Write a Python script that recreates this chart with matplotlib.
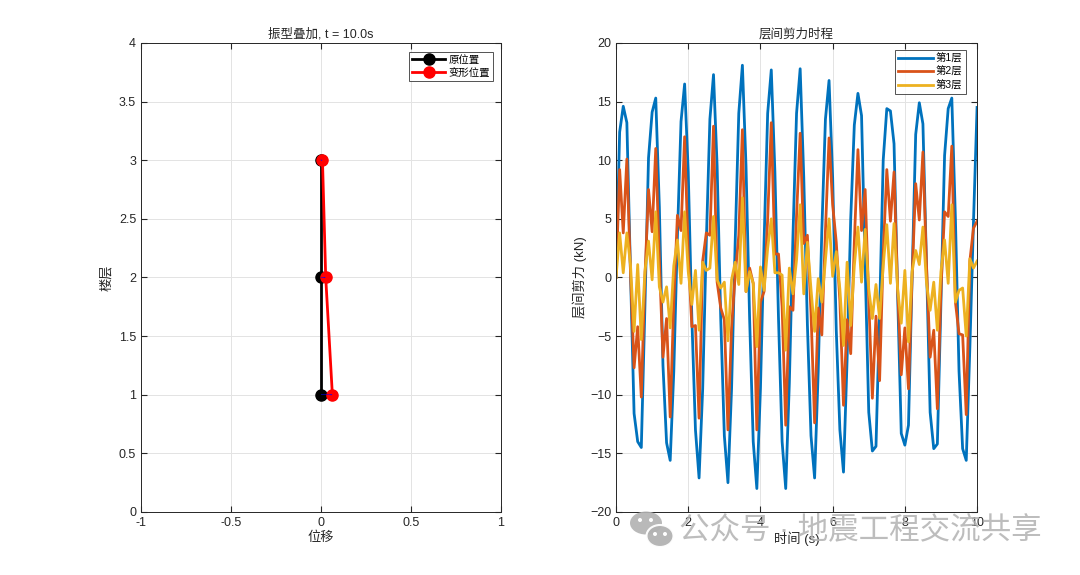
import matplotlib.pyplot as plt
import numpy as np
from matplotlib.patches import Ellipse
from matplotlib.transforms import IdentityTransform

plt.rcParams['font.family'] = ['Liberation Sans', 'Noto Sans CJK SC']

# left panel: floor positions
floors = [1, 2, 3]
orig_x = [0.0, 0.0, 0.0]
deform_x = [0.063, 0.026, 0.008]

# right panel: storey shear time history (kN), dt = 0.1 s
time = np.arange(101) * 0.1
shear1 = [0.0, 12.4, 14.6, 13.2, 0.5, -11.6, -14.0, -14.5, -2.5, 10.2,
          14.1, 15.3, 6.0, -7.5, -14.1, -15.6, -8.0, 3.5, 13.3, 16.5,
          9.0, -3.5, -13.0, -17.1, -9.5, 3.0, 13.5, 17.3, 9.5, -3.5,
          -13.5, -17.5, -9.5, 3.0, 14.0, 18.1, 9.5, -3.5, -14.0, -18.0,
          -9.5, 3.0, 14.0, 17.7, 9.0, -3.5, -14.0, -18.0, -9.0, 3.5,
          14.0, 17.8, 8.5, -4.0, -13.5, -17.1, -8.0, 4.0, 13.5, 16.8,
          8.5, -4.5, -13.0, -16.6, -7.0, 5.0, 13.0, 15.7, 13.8, 1.0,
          -11.5, -14.8, -14.4, -3.0, 10.0, 14.4, 14.2, 11.4, -1.5, -13.3,
          -14.3, -12.6, 0.0, 12.2, 14.9, 13.1, 1.0, -11.5, -14.6, -14.2,
          -2.0, 10.4, 14.4, 15.3, 5.0, -8.0, -14.6, -15.6, -6.0, 4.7,
          14.5]
shear2 = [0.0, 9.2, 3.8, 10.1, 0.5, -7.7, -4.2, -10.2, 0.0, 7.5,
          3.9, 11.0, 1.5, -6.8, -3.5, -11.9, -2.0, 5.3, 4.0, 12.0,
          2.0, -4.2, -4.1, -12.0, 1.4, 3.8, 3.6, 12.9, -0.4, -2.6,
          -3.6, -13.0, -4.3, 0.2, 3.6, 12.6, -1.2, 0.8, -0.5, -13.0,
          -2.1, -1.2, 5.0, 13.2, 2.0, 2.0, -2.5, -12.6, -2.5, -2.8,
          5.3, 12.3, 2.9, 3.6, -3.0, -12.4, -2.6, -4.9, 4.0, 11.9,
          6.2, 3.0, -2.0, -10.9, -3.6, -6.5, 3.0, 10.9, 4.0, 7.5,
          -2.0, -10.3, -3.3, -8.8, 2.0, 9.2, 4.8, 9.0, -1.0, -8.3,
          -4.3, -9.5, 0.0, 8.0, 4.9, 10.7, 1.0, -6.8, -4.5, -11.2,
          -1.0, 5.6, 5.2, 11.2, -2.1, -4.8, -4.9, -11.7, 1.4, 4.2,
          4.8]
shear3 = [0.0, 3.8, 0.4, 3.8, 1.1, -4.6, 1.1, -5.3, 0.5, 3.1,
          -0.2, 5.6, -0.8, -2.1, -0.8, -4.3, 1.0, 3.2, -0.5, 5.6,
          0.5, -2.3, 0.6, -4.5, 1.3, 0.6, 0.8, 5.2, -0.2, -0.9,
          -0.4, -5.4, -0.2, 1.3, -0.6, 6.8, -1.2, 0.5, -0.5, -5.9,
          0.9, -1.1, 2.5, 5.0, 0.4, 0.4, 0.2, -6.2, 0.8, -1.4,
          1.5, 6.2, -1.4, 3.0, -1.0, -4.6, -0.1, -2.1, 1.5, 5.0,
          0.1, 2.2, -1.0, -5.8, 1.3, -4.1, 1.0, 4.3, -0.4, 4.1,
          -1.0, -3.5, -0.6, -3.5, 1.0, 4.5, -0.5, 4.6, -1.0, -3.9,
          0.6, -5.5, 0.5, 2.3, 1.1, 4.3, -0.5, -2.8, -0.4, -4.5,
          0.5, 3.2, -0.5, 6.2, -2.1, -1.1, -0.9, -5.0, 1.6, 0.8,
          1.4]
series_names = ['第1层', '第2层', '第3层']
colors = ['#0072BD', '#D95319', '#EDB120']


def style_axes(ax):
    ax.grid(True, color='#e3e3e3', linewidth=0.7)
    ax.set_axisbelow(True)
    ax.tick_params(direction='in', top=True, right=True, labelsize=9,
                   colors='#262626', length=4)
    for s in ax.spines.values():
        s.set_color('#262626')
        s.set_linewidth(0.7)


fig = plt.figure(figsize=(10.8, 5.75), dpi=100)
ax1 = fig.add_axes([0.1306, 0.1096, 0.3333, 0.8157])
ax2 = fig.add_axes([0.5704, 0.1096, 0.3343, 0.8157])

# left: mode superposition
ax1.plot(orig_x, floors, '-o', color='k', lw=2, ms=8, label='原位置')
ax1.plot(deform_x, floors, '-o', color='r', lw=2, ms=8, label='变形位置')
ax1.quiver(orig_x, floors, np.array(deform_x) - np.array(orig_x), np.zeros(3),
           angles='xy', scale_units='xy', scale=1, color='b', width=0.0015,
           headwidth=2, headlength=2, zorder=5)
ax1.set_xlim(-1, 1)
ax1.set_ylim(0, 4)
ax1.set_xticks([-1, -0.5, 0, 0.5, 1])
ax1.set_xticklabels(['-1', '-0.5', '0', '0.5', '1'])
ax1.set_yticks(np.arange(0, 4.01, 0.5))
ax1.set_yticklabels(['0', '0.5', '1', '1.5', '2', '2.5', '3', '3.5', '4'])
ax1.set_title('振型叠加, t = 10.0s', fontsize=9, color='#262626', pad=4)
ax1.set_xlabel('位移', fontsize=9.5, color='#262626', labelpad=2)
ax1.set_ylabel('楼层', fontsize=9.5, color='#262626', labelpad=4)
style_axes(ax1)
leg1 = ax1.legend(loc='upper right', bbox_to_anchor=(0.978, 0.981),
                  fontsize=7.5, fancybox=False, edgecolor='#262626',
                  borderpad=0.3, handlelength=3.2, handletextpad=0.3,
                  labelspacing=0.25, borderaxespad=0)
leg1.get_frame().set_linewidth(0.7)

# right: storey shear history
for vals, name, c in zip([shear1, shear2, shear3], series_names, colors):
    ax2.plot(time, vals, color=c, lw=2, label=name)
ax2.set_xlim(0, 10)
ax2.set_ylim(-20, 20)
ax2.set_xticks([0, 2, 4, 6, 8, 10])
ax2.set_yticks(np.arange(-20, 21, 5))
ax2.set_title('层间剪力时程', fontsize=9, color='#262626', pad=4)
ax2.set_xlabel('时间 (s)', fontsize=9.5, color='#262626', labelpad=2)
ax2.set_ylabel('层间剪力 (kN)', fontsize=9.5, color='#262626', labelpad=2)
style_axes(ax2)
leg2 = ax2.legend(loc='upper right', bbox_to_anchor=(0.9695, 0.985),
                  fontsize=7.5, fancybox=False, edgecolor='#262626',
                  borderpad=0.35, handlelength=3.3, handletextpad=0.3,
                  labelspacing=0.3, borderaxespad=0)
leg2.get_frame().set_linewidth(0.7)

# watermark
wm_gray = '#b2b2b2'
fig.add_artist(Ellipse((646, 52), 32, 23, transform=IdentityTransform(),
                       facecolor=wm_gray, edgecolor='none', alpha=0.9))
fig.add_artist(Ellipse((660, 39), 27, 22, transform=IdentityTransform(),
                       facecolor=wm_gray, edgecolor='white', lw=1.5, alpha=0.95))
for ex, ey in [(640, 55), (651, 55), (655, 41), (665, 41)]:
    fig.add_artist(Ellipse((ex, ey), 4, 4, transform=IdentityTransform(),
                           facecolor='white', edgecolor='none'))
fig.text(0.629, 0.078, '公众号 · 地震工程交流共享', fontsize=22, color=wm_gray,
         alpha=0.85, ha='left', va='center')

fig.savefig('out.png', dpi=100)
